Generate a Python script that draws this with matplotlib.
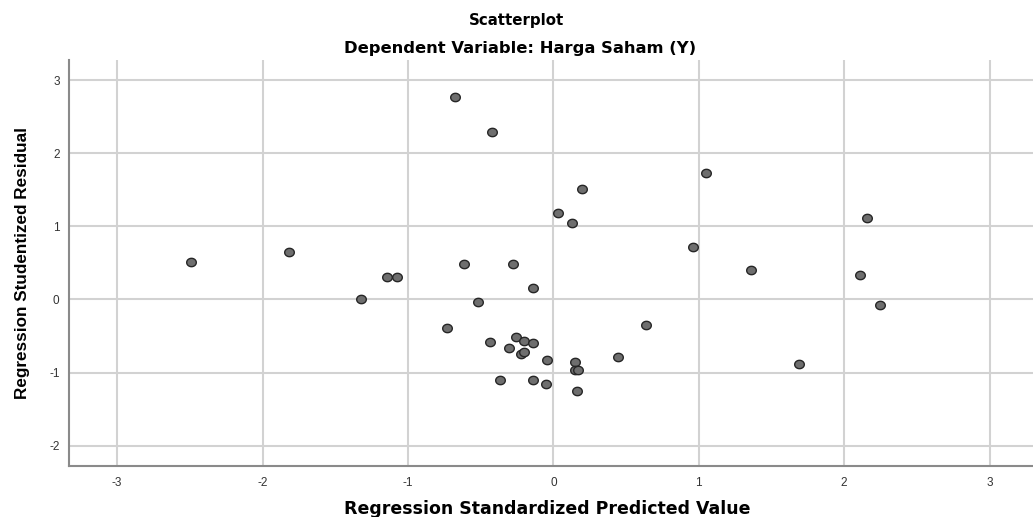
import matplotlib
matplotlib.use("Agg")
import matplotlib.pyplot as plt
import numpy as np
from matplotlib.path import Path

# predicted (standardized) vs studentized residual
pred_std = [-2.49, -1.82, -1.32, -1.146, -1.075, -0.733, -0.674, -0.614, -0.52,
            -0.433, -0.42, -0.369, -0.305, -0.275, -0.259, -0.224, -0.20, -0.20,
            -0.142, -0.14, -0.14, -0.048, -0.045, 0.034, 0.131, 0.151, 0.151,
            0.163, 0.168, 0.195, 0.445, 0.638, 0.963, 1.052, 1.362, 1.692,
            2.109, 2.155, 2.249]
resid_stud = [0.52, 0.65, 0.00, 0.31, 0.31, -0.39, 2.77, 0.48, -0.04,
              -0.58, 2.29, -1.10, -0.66, 0.48, -0.51, -0.74, -0.575, -0.72,
              -0.595, 0.16, -1.10, -1.155, -0.835, 1.19, 1.05, -0.855, -0.96,
              -1.25, -0.96, 1.51, -0.79, -0.35, 0.72, 1.73, 0.40, -0.88,
              0.33, 1.11, -0.07]
x_ticks = [-3, -2, -1, 0, 1, 2, 3]
y_ticks = [-2, -1, 0, 1, 2, 3]

plt.rcParams["font.family"] = ["Liberation Sans", "DejaVu Sans"]
WIDE = ["DejaVu Sans"]   # the reference is stretched sideways a little

# slightly wide ellipse marker, like the stretched SPSS dots
t = np.linspace(0, 2 * np.pi, 40)
ellipse = Path(np.column_stack([1.15 * np.cos(t), np.sin(t)]), closed=True)

fig = plt.figure(figsize=(10.33, 5.17), dpi=100)
ax = fig.add_axes([0.0671, 0.0986, 0.9329, 0.7855])

ax.scatter(pred_std, resid_stud, s=48, marker=ellipse, facecolor="#6e6e6e",
           edgecolor="#262626", linewidth=1.0, zorder=3)

ax.set_xlim(-3.329, 3.299)
ax.set_ylim(-2.28, 3.28)
ax.set_xticks(x_ticks)
ax.set_yticks(y_ticks)
ax.set_xticklabels([str(v) for v in x_ticks])
ax.set_yticklabels([str(v) for v in y_ticks])
ax.tick_params(length=0, labelsize=8.5, colors="#333333")
ax.tick_params(axis="x", pad=8)
ax.tick_params(axis="y", pad=7)
ax.grid(True, color="#d2d2d2", linewidth=1.5)
ax.set_axisbelow(True)

for side in ("top", "right"):
    ax.spines[side].set_visible(False)
for side in ("left", "bottom"):
    ax.spines[side].set_color("#8a8a8a")
    ax.spines[side].set_linewidth(1.5)

ax.set_xlabel("Regression Standardized Predicted Value", fontsize=12.5,
              fontweight="bold", family=WIDE)
ax.xaxis.set_label_coords(0.496, -0.084)
ax.set_ylabel("Regression Studentized Residual", fontsize=12.3,
              fontweight="bold")
ax.yaxis.set_label_coords(-0.041, 0.5)

fig.text(0.5, 1 - 20 / 517, "Scatterplot", ha="center", va="center",
         fontsize=10.8, fontweight="bold", family=WIDE)
fig.text(0.503, 1 - 49 / 517, "Dependent Variable: Harga Saham (Y)", ha="center",
         va="center", fontsize=11.8, fontweight="bold", family=WIDE)

fig.savefig("out.png", dpi=100)
